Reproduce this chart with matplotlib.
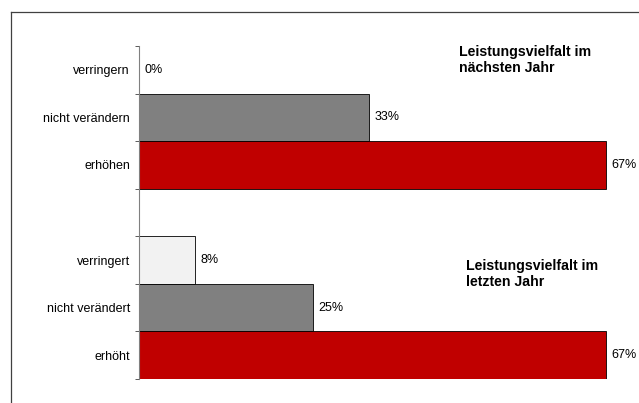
import matplotlib
matplotlib.use("Agg")
import matplotlib.pyplot as plt
from matplotlib.lines import Line2D

plt.rcParams['font.family'] = ['Liberation Sans', 'DejaVu Sans']

# Survey answers: range of services next year vs. last year
next_year_labels = ["verringern", "nicht verändern", "erhöhen"]
next_year_values = [0, 33, 67]
last_year_labels = ["verringert", "nicht verändert", "erhöht"]
last_year_values = [8, 25, 67]
bar_colors = ["#F2F2F2", "#808080", "#C00000"]
title_next = "Leistungsvielfalt im\nnächsten Jahr"
title_last = "Leistungsvielfalt im\nletzten Jahr"

W, H = 639, 403
fig = plt.figure(figsize=(W / 100, H / 100), dpi=100)

# outer frame (runs off the right and bottom edge)
fig.add_artist(Line2D([11 / W, 11 / W], [0, 1 - 12 / H], transform=fig.transFigure,
                      color="#404040", lw=0.9))
fig.add_artist(Line2D([11 / W, 1], [1 - 12 / H, 1 - 12 / H], transform=fig.transFigure,
                      color="#404040", lw=0.9))

px_per_pct = 6.97
xmax = 70
ax_left, ax_top, ax_bot = 139, 46, 379
ax = fig.add_axes([ax_left / W, (H - ax_bot) / H, xmax * px_per_pct / W, (ax_bot - ax_top) / H])

labels = next_year_labels + [""] + last_year_labels
values = next_year_values + [None] + last_year_values
colors = bar_colors + [None] + bar_colors

for i, (v, c) in enumerate(zip(values, colors)):
    if v is None:
        continue
    ax.barh(i, v, height=1.0, color=c, edgecolor="black", linewidth=0.6)
    ax.annotate(f"{v}%", xy=(v, i), xytext=(3.8, 0), textcoords="offset points",
                va="center", ha="left", fontsize=9, color="#000000",
                annotation_clip=False)

ax.set_xlim(0, xmax)
ax.set_ylim(len(labels) - 0.5, -0.5)

for s in ["top", "right", "bottom"]:
    ax.spines[s].set_visible(False)
ax.spines["left"].set_color("#808080")
ax.spines["left"].set_linewidth(0.8)
ax.set_xticks([])

ax.set_yticks([i - 0.5 for i in range(len(labels) + 1)])
ax.set_yticklabels([])
ax.tick_params(axis="y", which="major", length=3, width=0.6, color="#404040")
ax.set_yticks(range(len(labels)), minor=True)
ax.set_yticklabels(labels, minor=True, fontsize=9)
ax.tick_params(axis="y", which="minor", length=0, pad=6.5)

fig.text(459 / W, 1 - 45 / H, title_next, ha="left", va="top", fontsize=10.2,
         fontweight="bold", linespacing=1.15)
fig.text(466 / W, 1 - 259 / H, title_last, ha="left", va="top", fontsize=10.2,
         fontweight="bold", linespacing=1.15)

fig.savefig("out.png", dpi=100)
